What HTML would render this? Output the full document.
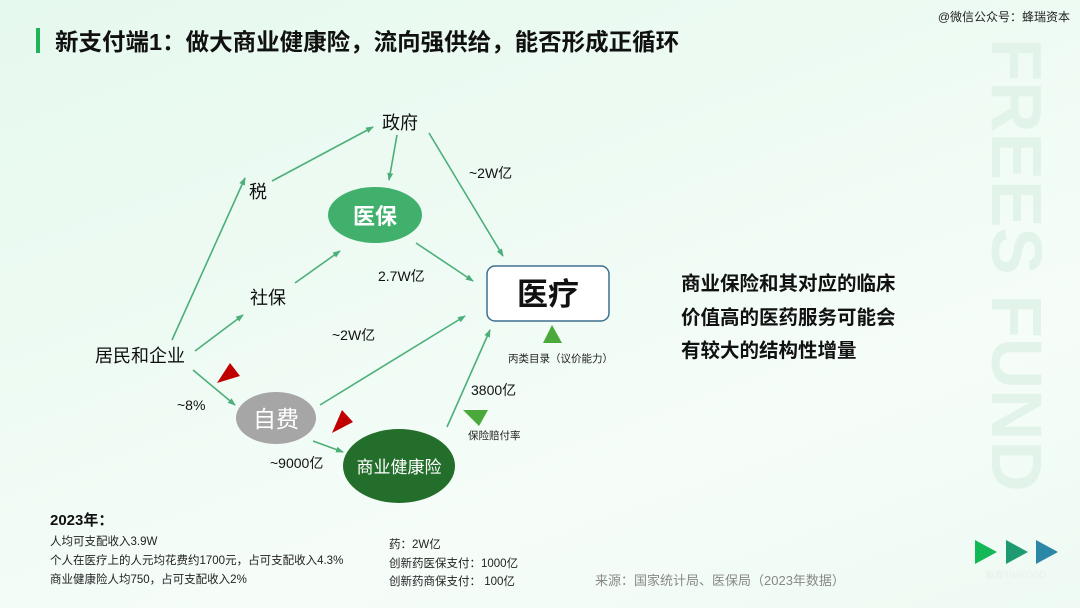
<!DOCTYPE html>
<html><head><meta charset="utf-8"><style>
html,body{margin:0;padding:0}
body{width:1080px;height:608px;overflow:hidden;background:linear-gradient(160deg,#e6f9ee 0%,#effbf4 45%,#f6fdf9 70%,#eefaf3 100%);font-family:"Liberation Sans","Noto Sans CJK SC",sans-serif;}
svg{position:absolute;left:0;top:0}
text{font-family:"Liberation Sans","Noto Sans CJK SC",sans-serif}
</style></head><body>
<svg width="1080" height="608" viewBox="0 0 1080 608">
<defs>
<marker id="a" markerWidth="8" markerHeight="8" refX="7" refY="4" orient="auto" markerUnits="userSpaceOnUse"><path d="M0,1 L8,4 L0,7 z" fill="#4caf7a"/></marker>
</defs>
<text transform="translate(992,38) rotate(90)" font-size="71" font-weight="bold" fill="#e2f4ea">FREES FUND</text>
<rect x="36" y="28" width="4" height="25" fill="#21b35a"/>
<text x="55" y="50" font-size="23.5" font-weight="bold" fill="#111">新支付端1：做大商业健康险，流向强供给，能否形成正循环</text>
<text x="1070" y="21" font-size="12" fill="#222" text-anchor="end">@微信公众号：蜂瑞资本</text>

<g stroke="#4caf7a" stroke-width="1.6" fill="none" marker-end="url(#a)">
<line x1="172" y1="340" x2="245" y2="178"/>
<line x1="272" y1="181" x2="373" y2="127"/>
<line x1="397" y1="135" x2="389" y2="180"/>
<line x1="429" y1="133" x2="503" y2="256"/>
<line x1="416" y1="243" x2="473" y2="281"/>
<line x1="295" y1="283" x2="340" y2="251"/>
<line x1="195" y1="351" x2="243" y2="315"/>
<line x1="193" y1="370" x2="235" y2="405"/>
<line x1="320" y1="405" x2="465" y2="316"/>
<line x1="313" y1="441" x2="343" y2="452"/>
<line x1="447" y1="427" x2="490" y2="330"/>
</g>

<g font-size="18" fill="#111" text-anchor="middle">
<text x="400" y="129">政府</text>
<text x="258" y="198">税</text>
<text x="268" y="304">社保</text>
<text x="140" y="362">居民和企业</text>
</g>
<ellipse cx="375" cy="215" rx="47" ry="28" fill="#41b06c"/>
<text x="375" y="224" font-size="22" font-weight="bold" fill="#fff" text-anchor="middle">医保</text>
<rect x="487" y="266" width="122" height="55" rx="8" fill="#fff" stroke="#3e6f8e" stroke-width="1.5"/>
<text x="548" y="305" font-size="31" font-weight="bold" fill="#111" text-anchor="middle">医疗</text>
<ellipse cx="276" cy="418" rx="40" ry="26" fill="#a6a6a6"/>
<text x="276" y="427" font-size="23" fill="#fff" text-anchor="middle">自费</text>
<ellipse cx="399" cy="466" rx="56" ry="37" fill="#236e2a"/>
<text x="399" y="473" font-size="17" fill="#fff" text-anchor="middle">商业健康险</text>

<g font-size="14" fill="#111">
<text x="469" y="178">~2W亿</text>
<text x="378" y="281">2.7W亿</text>
<text x="332" y="340">~2W亿</text>
<text x="177" y="410">~8%</text>
<text x="270" y="468">~9000亿</text>
<text x="471" y="395">3800亿</text>
</g>
<g font-size="10.5" fill="#222">
<text x="508" y="362">丙类目录（议价能力）</text>
<text x="468" y="439">保险赔付率</text>
</g>
<polygon points="217,383 230,363 240,376" fill="#c00000"/>
<polygon points="332,433 342,410 353,422" fill="#c00000"/>
<polygon points="543,343 562,343 552,325" fill="#4aa93a"/>
<polygon points="463,410 488,410 479,426" fill="#4aa93a"/>

<g font-size="19.5" fill="#111" font-weight="bold">
<text x="681" y="290">商业保险和其对应的临床</text>
<text x="681" y="324">价值高的医药服务可能会</text>
<text x="681" y="357">有较大的结构性增量</text>
</g>

<text x="50" y="525" font-size="15" font-weight="bold" fill="#111">2023年：</text>
<g font-size="11.5" fill="#222">
<text x="50" y="545">人均可支配收入3.9W</text>
<text x="50" y="564">个人在医疗上的人元均花费约1700元，占可支配收入4.3%</text>
<text x="50" y="583">商业健康险人均750，占可支配收入2%</text>
<text x="389" y="548">药：2W亿</text>
<text x="389" y="567">创新药医保支付：1000亿</text>
<text x="389" y="585">创新药商保支付： 100亿</text>
</g>
<text x="595" y="585" font-size="13" fill="#888">来源：国家统计局、医保局（2023年数据）</text>

<polygon points="975,540 975,564 997,552" fill="#13b857"/>
<polygon points="1006,540 1006,564 1028,552" fill="#1e9a72"/>
<polygon points="1036,540 1036,564 1058,552" fill="#2c86a6"/>
<text x="1016" y="578" font-size="9" fill="#e8efe8" text-anchor="middle">脉度TIMEDOO</text>
</svg>
</body></html>
